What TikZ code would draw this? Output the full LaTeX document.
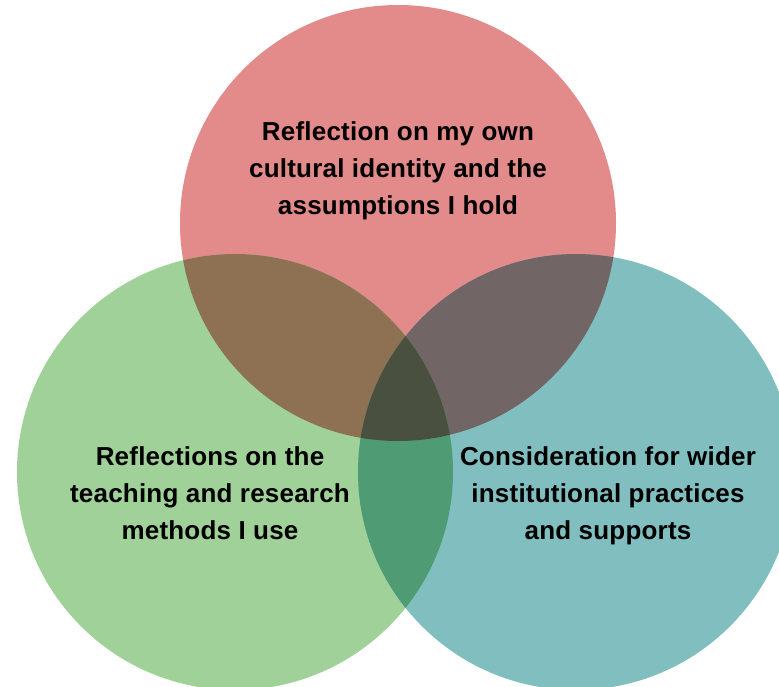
\documentclass[tikz,border=0pt]{standalone}
\usepackage{fontspec}
\setmainfont{Liberation Sans}[LetterSpace=0.8]
\definecolor{cred}{HTML}{E38A8A}
\definecolor{cgreen}{HTML}{9FD198}
\definecolor{cteal}{HTML}{81BEBF}
\definecolor{crg}{HTML}{8E7153}
\definecolor{crt}{HTML}{716566}
\definecolor{cgt}{HTML}{4F9B73}
\definecolor{call}{HTML}{4A503F}
\tikzset{
  lbl/.style={align=center, text=black, inner sep=0pt,
    font=\fontsize{26pt}{37pt}\selectfont\bfseries},
}
\begin{document}
\begin{tikzpicture}[x=1pt,y=-1pt]
\useasboundingbox (0,0) rectangle (779,687);
\coordinate (R) at (398,223);
\coordinate (G) at (235,472);
\coordinate (T) at (576,472);
\begin{scope}
  \clip (0,0) rectangle (779,687);
  \fill[cred] (R) circle (218pt);
  \fill[cgreen] (G) circle (218pt);
  \fill[cteal] (T) circle (218pt);
  \begin{scope}
    \clip (R) circle (218pt);
    \fill[crg] (G) circle (218pt);
    \fill[crt] (T) circle (218pt);
  \end{scope}
  \begin{scope}
    \clip (G) circle (218pt);
    \fill[cgt] (T) circle (218pt);
  \end{scope}
  \begin{scope}
    \clip (R) circle (218pt);
    \clip (G) circle (218pt);
    \fill[call] (T) circle (218pt);
  \end{scope}
\end{scope}
\node[lbl] (tred) at (398,171) {Reflection on my own\\cultural identity and the\\assumptions I hold};
\node[lbl] (tgreen) at (210,493) {Reflections on the\\teaching and research\\methods I use};
\node[lbl] (tteal) at (608,496) {Consideration for wider\\institutional practices\\and supports};
\end{tikzpicture}
\end{document}
